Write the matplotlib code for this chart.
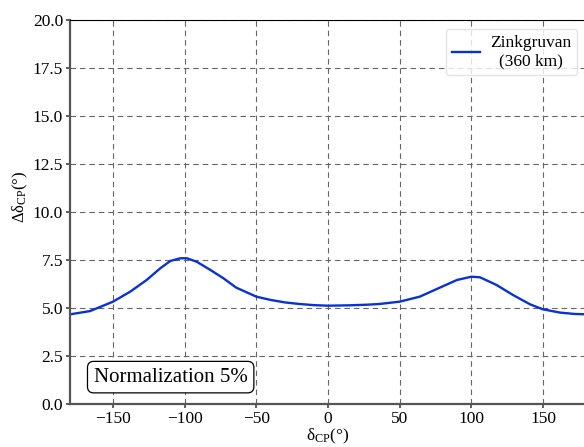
import matplotlib
matplotlib.use("Agg")
import matplotlib.pyplot as plt
import numpy as np

plt.rcParams['font.family'] = ['Liberation Serif', 'DejaVu Serif']
plt.rcParams['mathtext.fontset'] = 'custom'
plt.rcParams['mathtext.rm'] = 'Liberation Serif'
plt.rcParams['mathtext.it'] = 'Liberation Serif:italic'
plt.rcParams['font.size'] = 12.5

# curve
dcp = [-180, -166, -150, -138, -126.5, -117, -110, -103, -98.5, -91.6, -82, -73, -64,
       -50, -40, -30, -20, -10, 0, 15, 27, 36, 50, 64, 78, 90, 100, 106, 117.6, 129,
       141, 150, 162, 172, 180]
ddcp = [4.67, 4.84, 5.33, 5.85, 6.46, 7.07, 7.45, 7.59, 7.59, 7.41, 6.98, 6.55, 6.06,
        5.59, 5.42, 5.29, 5.21, 5.15, 5.12, 5.14, 5.17, 5.21, 5.33, 5.59, 6.06, 6.46,
        6.63, 6.60, 6.20, 5.68, 5.19, 4.93, 4.76, 4.69, 4.67]
yticks = [0.0, 2.5, 5.0, 7.5, 10.0, 12.5, 15.0, 17.5, 20.0]
xticks = [-150, -100, -50, 0, 50, 100, 150]

fig = plt.figure(figsize=(5.84, 4.47), dpi=100)
ax = fig.add_axes([70/584, 1-404/447, 516/584, 384/447])

ax.plot(dcp, ddcp, color='#0a32d2', lw=1.7, label='Zinkgruvan\n(360 km)')
ax.set_xlim(-180, 180)
ax.set_ylim(0, 20)
ax.set_xticks(xticks)
ax.set_yticks(yticks)
ax.set_yticklabels(["%.1f" % v for v in yticks])
ax.grid(True, ls=(0, (5, 3.5)), color='#666666', lw=0.8)
ax.set_axisbelow(True)

ax.spines['left'].set_color('#555555')
ax.spines['left'].set_linewidth(1.6)
ax.spines['bottom'].set_color('#555555')
ax.spines['bottom'].set_linewidth(1.6)
ax.spines['top'].set_color('black')
ax.tick_params(direction='out', length=3, width=1.2, color='#444444', pad=2)

ax.set_xlabel(r'$\mathrm{\delta_{CP}}(°)$', labelpad=0)
ax.set_ylabel(r'$\mathrm{\Delta\delta_{CP}}(°)$', fontsize=12)
ax.yaxis.set_label_coords(-0.078, 0.54)

leg = ax.legend(loc='upper right', fontsize=12.5, handlelength=1.6,
                borderpad=0.35, labelspacing=0.1, handletextpad=0.6, fancybox=True)
leg.get_frame().set_edgecolor('#dddddd')
for t in leg.get_texts():
    t.set_multialignment('center')

ax.text(0.046, 0.07, 'Normalization 5%', transform=ax.transAxes, fontsize=15,
        va='center', ha='left',
        bbox=dict(boxstyle='round,pad=0.3', fc='white', ec='black', lw=0.9))

fig.savefig('out.png', dpi=100)
